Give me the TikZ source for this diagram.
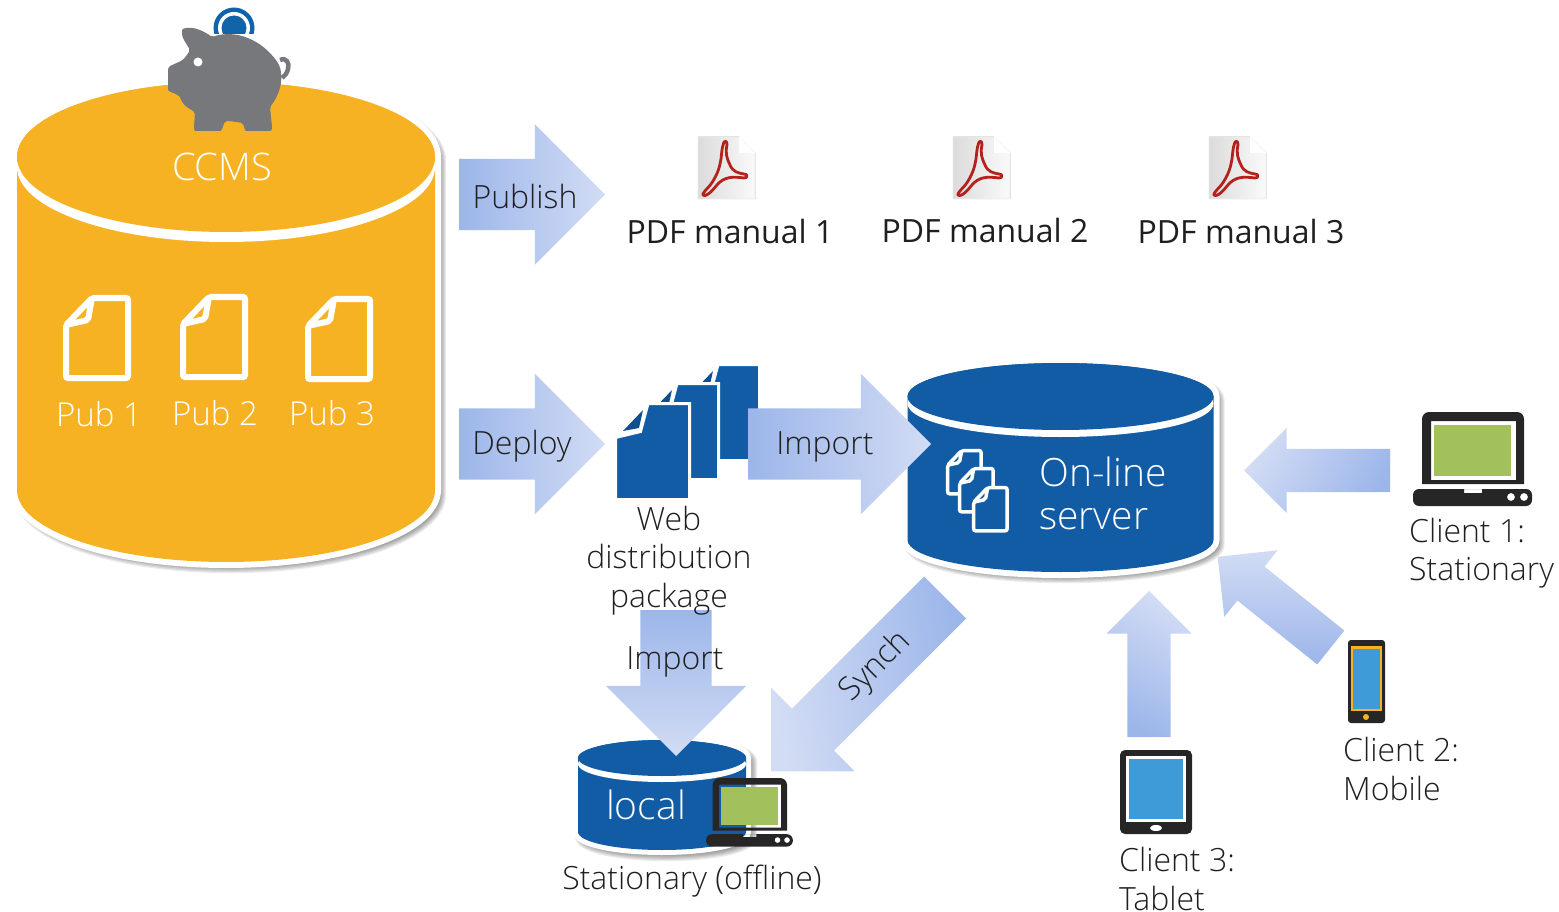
\documentclass[tikz,border=0pt]{standalone}
\usepackage{fontspec}
\setmainfont{Open Sans}[UprightFont=* Light]
\newfontfamily\regularfont{Open Sans}
\usetikzlibrary{%
  shapes.arrows,% block arrows
  positioning
}
\definecolor{drumorange}{HTML}{F7B224}
\definecolor{drumblue}{HTML}{125CA5}
\definecolor{folddark}{HTML}{0F4F8F}
\definecolor{arrowdark}{HTML}{9CB6EA}
\definecolor{arrowlight}{HTML}{D2DCF4}
\definecolor{devicedark}{HTML}{262626}
\definecolor{screengreen}{HTML}{A2C05C}
\definecolor{screenblue}{HTML}{3F9BD7}
\definecolor{piggray}{HTML}{77787B}
\definecolor{pdfred}{HTML}{B5221C}
\definecolor{labelgray}{HTML}{1F1F1F}

% centre x, centre y, x radius, y radius, y of side end, lower y radius
\newcommand{\drumpath}[6]{({#1-#3},#2) arc[start angle=180,end angle=360,x radius=#3,y radius=#4] -- ({#1+#3},#5) arc[start angle=0,end angle=180,x radius=#3,y radius=#6] -- cycle}
% the same, then band below the lid, margin, fill colour
\newcommand{\drum}[9]{%
  \foreach \w in {1,...,6}
    \filldraw[black,opacity=.08,line width=\w*2.4pt,line join=round,xshift=4pt,yshift=-4pt] \drumpath{#1}{#2}{#3}{#4}{#5}{#6};
  \filldraw[white,line width=2*#8pt,line join=round] \drumpath{#1}{#2}{#3}{#4}{#5}{#6};
  \fill[#9] \drumpath{#1}{#2}{#3}{#4}{#5}{#6};
  \fill[white] (#1,{#2+#7}) ellipse[x radius=#3,y radius=#4];
  \fill[#9] (#1,#2) ellipse[x radius=#3,y radius=#4];
}

\begin{document}
\begin{tikzpicture}
[x=1pt, y=-1pt,
blockarrow/.style={single arrow, top color=arrowdark, bottom color=arrowlight, inner sep=0pt, outer sep=0pt, single arrow tip angle=90, anchor=tail, text depth=0pt},
bigarrow/.style={blockarrow, single arrow head extend=34.5pt, text height=71pt, minimum height=146pt},
clientarrow/.style={blockarrow, single arrow head extend=21pt, text height=43pt, minimum height=146pt},
label/.style={inner sep=0pt, text=labelgray, font=\fontsize{32}{38.5}\selectfont, align=left},
manuallabel/.style={label, font=\regularfont\fontsize{32}{38.5}\selectfont},
drumlabel/.style={label, text=white, font=\fontsize{33}{38.5}\selectfont},
biglabel/.style={drumlabel, font=\fontsize{39}{43}\selectfont},
fileicon/.pic={
  \path[pic actions, rounded corners=2pt] (3,30) -- (29,3) -- (65,3) -- (65,83) -- (3,83) -- cycle (3,30) -- (25,25) -- (29,3);
},
bluefile/.pic={
  \filldraw[fill=drumblue, draw=white, line width=3pt] (-1.5,32.5) -- (23.5,26.5) -- (31,-1.5) -- (72.5,-1.5) -- (72.5,94.5) -- (-1.5,94.5) -- cycle;
  \fill[folddark] (6,26) -- (26,5) -- (22,23) -- cycle;
},
laptop/.pic={
  \fill[devicedark, even odd rule] (9,72) {[rounded corners=7pt] -- (9,0) -- (111,0) -- (111,20)} -- (111,72) -- cycle (18,9) rectangle (103,68);
  \fill[screengreen] (21,13) rectangle (98,64);
  \fill[devicedark, even odd rule] {[rounded corners=6pt] (0,77) rectangle (119,94)} (51,77) rectangle (69,81) (98,85) circle[radius=4] (111,85) circle[radius=4];
},
pdficon/.pic={
  \filldraw[left color=black!14, right color=black!2, draw=black!8, line width=.6pt] (0,0) -- (41,0) -- (57,16) -- (57,62) -- (0,62) -- cycle;
  \fill[white] (41,0) -- (57,16) -- (41,16) -- cycle;
  \draw[pdfred, line width=2.8pt, line join=round] (26,5) .. controls (23,12) and (24,20) .. (22,27) .. controls (20,37) and (14,47) .. (8.7,52) .. controls (5,56) and (3,59) .. (7,58.5) .. controls (13,57) and (18,48) .. (22,45) .. controls (29,39) and (38,40) .. (46,41) .. controls (50,41) and (50,37) .. (46,37) .. controls (40,36) and (35,35) .. (32,28) .. controls (29,22) and (27,16) .. (29,8) .. controls (29,4) and (27,3) .. (26,5) -- cycle;
}]

\useasboundingbox (0,0) rectangle (1559,912);

% coin and piggy bank
\begin{scope}
\clip (200,0) rectangle (270,34);
\fill[drumblue!95!cyan] (234,28) circle[radius=20.5];
\fill[white] (234,28) circle[radius=16];
\fill[drumblue!95!cyan] (234,28) circle[radius=12.5];
\end{scope}

\drum{226}{157}{209}{75}{490}{72}{10}{6}{drumorange}
\drum{1060.5}{396.5}{153}{33.5}{540}{32}{7}{6}{drumblue}
\drum{662}{758}{84}{18}{832}{18}{6}{5}{drumblue}

\fill[piggray, rounded corners=2pt] (168,67) -- (183,60) .. controls (187,55) and (189,52) .. (190,50) .. controls (186,43) and (182,38) .. (182,32) .. controls (182,28) and (190,27) .. (197,29) .. controls (203,31) and (208,34) .. (212,37) .. controls (236,29) and (262,40) .. (278,63) .. controls (283,73) and (283,90) .. (270,107) -- (272,127) .. controls (272,130) and (270,131) .. (268,131) -- (248,131) .. controls (245,131) and (244,127) .. (243,123) .. controls (236,122) and (230,121) .. (225,121) .. controls (223,126) and (222,131) .. (218,131) -- (197,131) .. controls (195,131) and (194,129) .. (194,127) -- (195,112) .. controls (190,109) and (186,107) .. (183,103) .. controls (181,100) and (180,97) .. (178,95) -- (171,92) .. controls (169,91) and (168,90) .. (168,88) -- cycle;
\draw[piggray, line width=4.5pt] (280,60) .. controls (286,57) and (290,63) .. (288,69) .. controls (287,73) and (285,76) .. (282,78);
\fill[white] (198,62) circle[radius=4.5];

% PDF files
\pic at (698,137) {pdficon};
\pic at (953,137) {pdficon};
\pic at (1209,137) {pdficon};

% topics in the CCMS
\pic[draw=white, line width=6pt] at (63,295) {fileicon};
\pic[draw=white, line width=6pt] at (180,294) {fileicon};
\pic[draw=white, line width=6pt] at (305,296) {fileicon};

% web package
\pic at (687,366) {bluefile};
\pic at (646,385) {bluefile};
\pic at (617,405) {bluefile};

% block arrows
\node[bigarrow, shading angle=90] (publish) at (459,194.5) {};
\node[bigarrow, shading angle=90] (deploy) at (459,444) {};
\node[bigarrow, shading angle=90, minimum height=183pt] (importserver) at (748,444) {};
\node[bigarrow, shading angle=0, rotate=-90] (importlocal) at (676,610) {};
\node[blockarrow, single arrow head extend=29.5pt, text height=59pt, minimum height=246pt, shading angle=280, rotate=225] (synch) at (945,597.5) {};
\node[clientarrow, shading angle=240, rotate=180] (fromclient1) at (1390,470.5) {};
\node[clientarrow, shading angle=180, rotate=141.3, minimum height=145pt] (fromclient2) at (1330.8,647.5) {};
\node[clientarrow, shading angle=150, rotate=90] (fromclient3) at (1149,737) {};

% topics on the server
\pic[draw=white, fill=drumblue, line width=3.5pt, scale=.54] at (946,449) {fileicon};
\pic[draw=white, fill=drumblue, line width=3.5pt, scale=.54] at (958,467) {fileicon};
\pic[draw=white, fill=drumblue, line width=3.5pt, scale=.54] at (972,486) {fileicon};

% clients
\pic at (1413,412) {laptop};
\pic[scale=.73] at (706,778) {laptop};

\fill[devicedark, rounded corners=3pt] (1348,640) rectangle (1385,723);
\fill[drumorange] (1351,646) rectangle (1382,711);
\fill[screenblue] (1353,649) rectangle (1380,709);
\fill[drumorange] (1366,717) circle[radius=3];

\fill[devicedark, rounded corners=5pt] (1120,750) rectangle (1192,834);
\fill[white] (1126,756) rectangle (1186,822);
\fill[screenblue] (1129,759) rectangle (1183,819);
\fill[white] (1156,828) ellipse[x radius=6,y radius=3];

% texts
\node[drumlabel, font=\fontsize{38}{43}\selectfont] (ccms) at (222,167) {CCMS};
\node[drumlabel] (pub1) at (99,414) {Pub 1};
\node[drumlabel] (pub2) at (215,413) {Pub 2};
\node[drumlabel] (pub3) at (332,413) {Pub 3};
\node[label] (publishtext) at (525,197) {Publish};
\node[label] (deploytext) at (522,446) {Deploy};
\node[manuallabel] (manual1) at (730,232) {PDF manual 1};
\node[manuallabel] (manual2) at (985,231) {PDF manual 2};
\node[manuallabel] (manual3) at (1241,232) {PDF manual 3};
\node[label, align=center] (webpackage) at (669,560.5) {Web\\distribution\\package};
\node[label] (importtext1) at (825,447) {Import};
\node[label] (importtext2) at (675,662) {Import};
\node[label, rotate=45] (synchtext) at (876,667) {Synch};
\node[biglabel, anchor=west] (online) at (1039,493) {On-line\\server};
\node[biglabel] (local) at (646,805) {local};
\node[label] (stationary) at (692,881) {Stationary (offline)};
\node[label, anchor=west] (client1) at (1409,553) {Client 1:\\Stationary};
\node[label, anchor=west] (client2) at (1343,769) {Client 2:\\Mobile};
\node[label, anchor=west] (client3) at (1119,879) {Client 3:\\Tablet};

\end{tikzpicture}
\end{document}
